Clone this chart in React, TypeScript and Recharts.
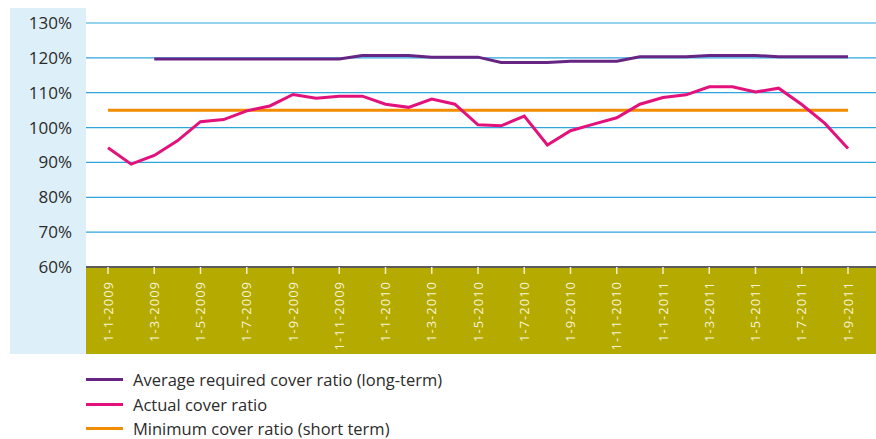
import React from 'react';
import { LineChart, Line, XAxis, YAxis, CartesianGrid, Legend } from 'recharts';

const months = [
  '1-1-2009', '1-2-2009', '1-3-2009', '1-4-2009', '1-5-2009', '1-6-2009',
  '1-7-2009', '1-8-2009', '1-9-2009', '1-10-2009', '1-11-2009', '1-12-2009',
  '1-1-2010', '1-2-2010', '1-3-2010', '1-4-2010', '1-5-2010', '1-6-2010',
  '1-7-2010', '1-8-2010', '1-9-2010', '1-10-2010', '1-11-2010', '1-12-2010',
  '1-1-2011', '1-2-2011', '1-3-2011', '1-4-2011', '1-5-2011', '1-6-2011',
  '1-7-2011', '1-8-2011', '1-9-2011',
];

// percentages
const actualRatio = [
  94.2, 89.5, 92.0, 96.2, 101.7, 102.3, 104.8, 106.2, 109.5, 108.4, 109.0,
  109.0, 106.7, 105.8, 108.2, 106.7, 100.8, 100.5, 103.3, 95.0, 99.1, 101.0,
  102.8, 106.7, 108.6, 109.4, 111.7, 111.7, 110.2, 111.3, 106.6, 101.2, 94.0,
];

const requiredRatio = [
  null, null, 119.7, 119.7, 119.7, 119.7, 119.7, 119.7, 119.7, 119.7, 119.7,
  120.7, 120.7, 120.7, 120.2, 120.2, 120.2, 118.7, 118.7, 118.7, 119.0, 119.0,
  119.0, 120.3, 120.3, 120.3, 120.7, 120.7, 120.7, 120.3, 120.3, 120.3, 120.3,
];

const minimumRatio = [
  105, 105, 105, 105, 105, 105, 105, 105, 105, 105, 105, 105, 105, 105, 105,
  105, 105, 105, 105, 105, 105, 105, 105, 105, 105, 105, 105, 105, 105, 105,
  105, 105, 105,
];

const yTicks = [60, 70, 80, 90, 100, 110, 120, 130];

const legendNames = [
  'Average required cover ratio (long-term)',
  'Actual cover ratio',
  'Minimum cover ratio (short term)',
];

const PURPLE = '#662483';
const PINK = '#e3117b';
const ORANGE = '#f28c00';
const legendColors = [PURPLE, PINK, ORANGE];

const data = months.map((month, i) => ({
  month,
  actual: actualRatio[i],
  required: requiredRatio[i],
  minimum: minimumRatio[i],
}));

const FONT = '"Open Sans", sans-serif';

const MonthTick = (props: any) => {
  const { x, y, payload } = props;
  return (
    <g transform={`translate(${x},${y})`}>
      <text
        transform="rotate(-90)"
        x={-5}
        y={0}
        dy="0.36em"
        textAnchor="end"
        fill="#f7f4d8"
        fontSize={13}
        fontFamily={FONT}
        letterSpacing={1}
      >
        {payload.value}
      </text>
    </g>
  );
};

const renderLegend = () => (
  <div style={{ paddingLeft: 86, paddingTop: 13, height: 72, fontFamily: FONT, fontSize: 16.5, color: '#2b2b2b' }}>
    {legendNames.map((name, i) => (
      <div key={name} style={{ display: 'flex', alignItems: 'center', height: 24.7 }}>
        <span style={{ display: 'inline-block', width: 37, height: 3, background: legendColors[i], marginRight: 10 }} />
        <span>{name}</span>
      </div>
    ))}
  </div>
);

export default function App() {
  return (
    <div style={{ position: 'absolute', left: 0, top: 0, width: 876, height: 439, background: '#fff' }}>
      {/* light blue panel behind the y axis */}
      <div style={{ position: 'absolute', left: 10, top: 8, width: 76, height: 346, background: '#ddf0fa' }} />
      {/* olive band behind the x axis */}
      <div style={{ position: 'absolute', left: 86, top: 267, width: 790, height: 87, background: '#b5aa00' }} />
      <div style={{ position: 'absolute', left: 0, top: 0 }}>
        <LineChart width={876} height={439} data={data} margin={{ top: 23, right: 0, left: 0, bottom: 0 }}>
          <CartesianGrid vertical={false} stroke="#2ea6dd" strokeWidth={1.2} />
          <XAxis
            dataKey="month"
            interval={1}
            height={87}
            padding={{ left: 22, right: 28 }}
            tick={<MonthTick />}
            tickSize={7}
            tickLine={{ stroke: '#f3efc8', strokeWidth: 1.5 }}
            axisLine={{ stroke: '#5b5b5b', strokeWidth: 2 }}
          />
          <YAxis
            width={86}
            domain={[60, 130]}
            ticks={yTicks}
            tickFormatter={(v) => `${v}%`}
            axisLine={false}
            tickLine={false}
            tickMargin={8}
            tick={{ fontSize: 17, fill: '#2b2b2b', fontFamily: FONT }}
          />
          <Legend verticalAlign="bottom" align="left" content={renderLegend} wrapperStyle={{ left: 0, width: 876 }} />
          <Line type="linear" dataKey="minimum" stroke={ORANGE} strokeWidth={3} dot={false} isAnimationActive={false} />
          <Line type="linear" dataKey="required" stroke={PURPLE} strokeWidth={3} dot={false} isAnimationActive={false} />
          <Line type="linear" dataKey="actual" stroke={PINK} strokeWidth={3} dot={false} isAnimationActive={false} />
        </LineChart>
      </div>
    </div>
  );
}
